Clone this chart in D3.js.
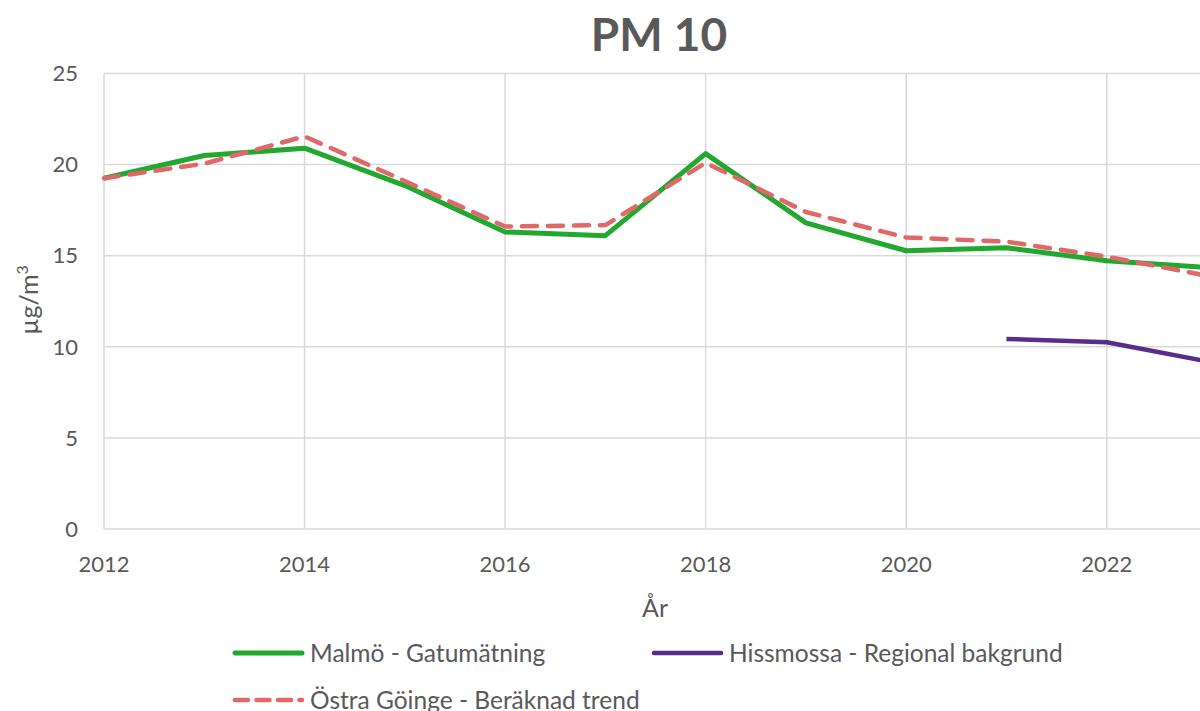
<!DOCTYPE html>
<html>
<head>
<meta charset="utf-8">
<script src="https://cdn.jsdelivr.net/npm/d3@7"></script>
<style>
  html, body { margin: 0; padding: 0; background: #fff; overflow: hidden; }
  svg { display: block; font-family: Lato, "Open Sans", sans-serif; }
</style>
</head>
<body>
<svg id="chart" width="1200" height="711"></svg>
<script>
// --- data ---
const years = [2012, 2013, 2014, 2015, 2016, 2017, 2018, 2019, 2020, 2021, 2022, 2023];
const malmo = [19.25, 20.5, 20.9, 18.85, 16.3, 16.1, 20.6, 16.8, 15.27, 15.44, 14.72, 14.35];
const hissmossa = [null, null, null, null, null, null, null, null, null, 10.43, 10.25, 9.2];
const ostraGoinge = [19.25, 20.05, 21.55, 19.1, 16.6, 16.68, 20.1, 17.4, 16.0, 15.77, 14.95, 13.9];
const yTicks = [0, 5, 10, 15, 20, 25];
const xTicks = [2012, 2014, 2016, 2018, 2020, 2022];

const series = [
  { name: 'Malmö - Gatumätning', values: malmo, color: '#22a72f', width: 5, dash: null },
  { name: 'Hissmossa - Regional bakgrund', values: hissmossa, color: '#582c88', width: 4.5, dash: null },
  { name: 'Östra Göinge - Beräknad trend', values: ostraGoinge, color: '#e06868', width: 4.5, dash: '15,11' }
];

const svg = d3.select('#chart');
const textColor = '#595959';
const gridColor = '#d9d9d9';

const x = d3.scaleLinear().domain([2012, 2023]).range([104, 1207]);
const y = d3.scaleLinear().domain([0, 25]).range([529, 73.5]);

// gridlines
svg.append('g').selectAll('line').data(yTicks).join('line')
    .attr('x1', x(2012)).attr('x2', 1200)
    .attr('y1', d => y(d)).attr('y2', d => y(d))
    .attr('stroke', gridColor).attr('stroke-width', 1.5);

svg.append('g').selectAll('line').data(xTicks).join('line')
    .attr('x1', d => x(d)).attr('x2', d => x(d))
    .attr('y1', y(0)).attr('y2', y(25))
    .attr('stroke', gridColor).attr('stroke-width', 1.5);

// tick labels
svg.append('g').selectAll('text').data(yTicks).join('text')
    .attr('x', 78).attr('y', d => y(d)).attr('dy', '0.35em')
    .attr('text-anchor', 'end').attr('fill', textColor)
    .style('font-size', '22px')
    .text(d => d);

svg.append('g').selectAll('text').data(xTicks).join('text')
    .attr('x', d => x(d)).attr('y', 572)
    .attr('text-anchor', 'middle').attr('fill', textColor)
    .style('font-size', '22px')
    .text(d => d);

// lines
const line = d3.line()
    .defined(d => d.v != null)
    .x(d => x(d.year))
    .y(d => y(d.v));

const lines = svg.append('g');
series.forEach(s => {
  lines.append('path')
      .datum(years.map((yr, i) => ({ year: yr, v: s.values[i] })))
      .attr('d', line)
      .attr('fill', 'none')
      .attr('stroke', s.color)
      .attr('stroke-width', s.width)
      .attr('stroke-linejoin', 'round')
      .attr('stroke-linecap', s.dash ? 'round' : 'butt')
      .attr('stroke-dasharray', s.dash);
});

// title and axis titles
svg.append('text')
    .attr('x', 659).attr('y', 51)
    .attr('text-anchor', 'middle').attr('fill', textColor)
    .style('font-size', '46px').style('font-weight', 'bold')
    .text('PM 10');

svg.append('text')
    .attr('x', 655).attr('y', 617)
    .attr('text-anchor', 'middle').attr('fill', textColor)
    .style('font-size', '25px')
    .text('År');

const ylab = svg.append('text')
    .attr('transform', 'translate(38,300) rotate(-90)')
    .attr('text-anchor', 'middle').attr('fill', textColor)
    .style('font-size', '25px');
ylab.append('tspan').text('µg/m');
ylab.append('tspan').attr('dy', -10).style('font-size', '16px').text('3');

// legend
const legendPos = [
  { lx: 233, ly: 653 },
  { lx: 652, ly: 653 },
  { lx: 233, ly: 700 }
];
const legend = svg.append('g').selectAll('g').data(series).join('g')
    .attr('transform', (d, i) => `translate(${legendPos[i].lx},${legendPos[i].ly})`);

legend.append('line')
    .attr('x1', 2).attr('x2', 69)
    .attr('stroke', d => d.color)
    .attr('stroke-width', d => d.width)
    .attr('stroke-linecap', 'round')
    .attr('stroke-dasharray', d => d.dash ? '13,8.5' : null);

legend.append('text')
    .attr('x', 77).attr('y', 0).attr('dy', '0.35em')
    .attr('fill', textColor)
    .style('font-size', '24.5px')
    .text(d => d.name);
</script>
</body>
</html>
